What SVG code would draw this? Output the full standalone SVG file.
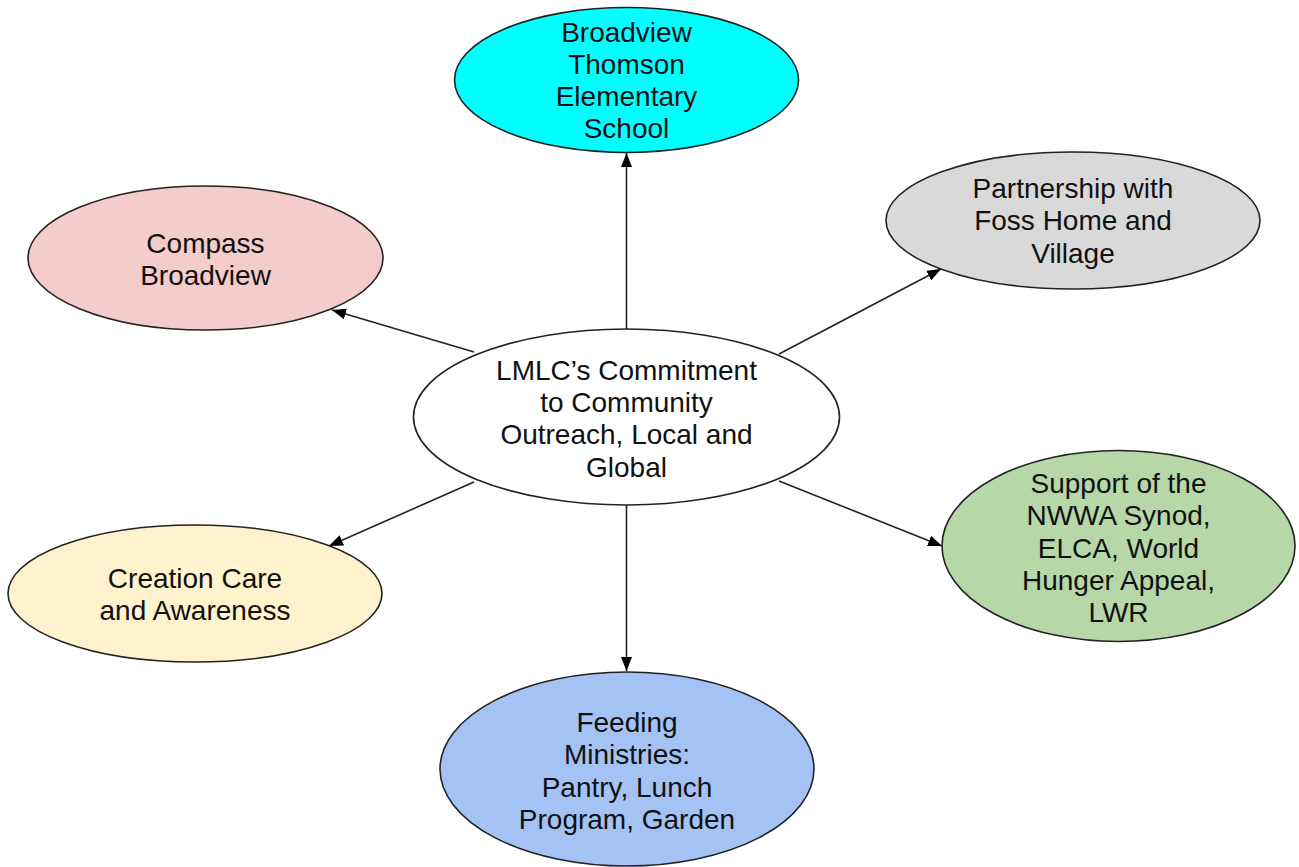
<svg xmlns="http://www.w3.org/2000/svg" width="1299" height="867" viewBox="0 0 1299 867">
<defs>
<marker id="ah" viewBox="0 0 14 11" refX="14" refY="5.5" markerWidth="14" markerHeight="11" markerUnits="userSpaceOnUse" orient="auto">
<path d="M0,0 L14,5.5 L0,11 z" fill="#000"/>
</marker>
<style>
.n{stroke:#222;stroke-width:1.6}
.t{font-family:"Liberation Sans",Arial,sans-serif;font-size:28px;fill:#111;text-anchor:middle}
.c{stroke:#222;stroke-width:1.6;fill:none;marker-end:url(#ah)}
</style>
</defs>
<rect width="1299" height="867" fill="#fff"/>
<g id="connectors">
<line class="c" x1="626.5" y1="329" x2="626.5" y2="153"/>
<line class="c" x1="474" y1="352" x2="332" y2="310"/>
<line class="c" x1="779" y1="354" x2="941" y2="269"/>
<line class="c" x1="474" y1="482" x2="329" y2="546"/>
<line class="c" x1="779" y1="481" x2="942" y2="546"/>
<line class="c" x1="626.5" y1="505" x2="626.5" y2="671"/>
</g>
<g id="center">
<ellipse class="n" cx="626.5" cy="417" rx="213" ry="88" fill="#fff"/>
<text class="t"><tspan x="626.5" y="380">LMLC’s Commitment</tspan><tspan x="626.5" y="412">to Community</tspan><tspan x="626.5" y="444">Outreach, Local and</tspan><tspan x="626.5" y="477">Global</tspan></text>
</g>
<g id="school">
<ellipse class="n" cx="626.5" cy="80" rx="172" ry="72.5" fill="#00ffff"/>
<text class="t"><tspan x="626.5" y="42">Broadview</tspan><tspan x="626.5" y="74">Thomson</tspan><tspan x="626.5" y="106">Elementary</tspan><tspan x="626.5" y="138">School</tspan></text>
</g>
<g id="compass">
<ellipse class="n" cx="205.5" cy="258" rx="177.5" ry="72" fill="#f4cccc"/>
<text class="t"><tspan x="205.5" y="253">Compass</tspan><tspan x="205.5" y="285">Broadview</tspan></text>
</g>
<g id="foss">
<ellipse class="n" cx="1073" cy="220.5" rx="187" ry="68.5" fill="#d9d9d9"/>
<text class="t"><tspan x="1073" y="198">Partnership with</tspan><tspan x="1073" y="230">Foss Home and</tspan><tspan x="1073" y="263">Village</tspan></text>
</g>
<g id="creation">
<ellipse class="n" cx="195" cy="593.5" rx="187" ry="68.5" fill="#fff2cc"/>
<text class="t"><tspan x="195" y="588">Creation Care</tspan><tspan x="195" y="620">and Awareness</tspan></text>
</g>
<g id="synod">
<ellipse class="n" cx="1118.5" cy="546" rx="176.5" ry="95.5" fill="#b6d7a8"/>
<text class="t"><tspan x="1118.5" y="493">Support of the</tspan><tspan x="1118.5" y="525">NWWA Synod,</tspan><tspan x="1118.5" y="558">ELCA, World</tspan><tspan x="1118.5" y="590">Hunger Appeal,</tspan><tspan x="1118.5" y="622">LWR</tspan></text>
</g>
<g id="feeding">
<ellipse class="n" cx="627" cy="769" rx="187" ry="97" fill="#a4c2f4"/>
<text class="t"><tspan x="627" y="732">Feeding</tspan><tspan x="627" y="764">Ministries:</tspan><tspan x="627" y="797">Pantry, Lunch</tspan><tspan x="627" y="829">Program, Garden</tspan></text>
</g>
</svg>
